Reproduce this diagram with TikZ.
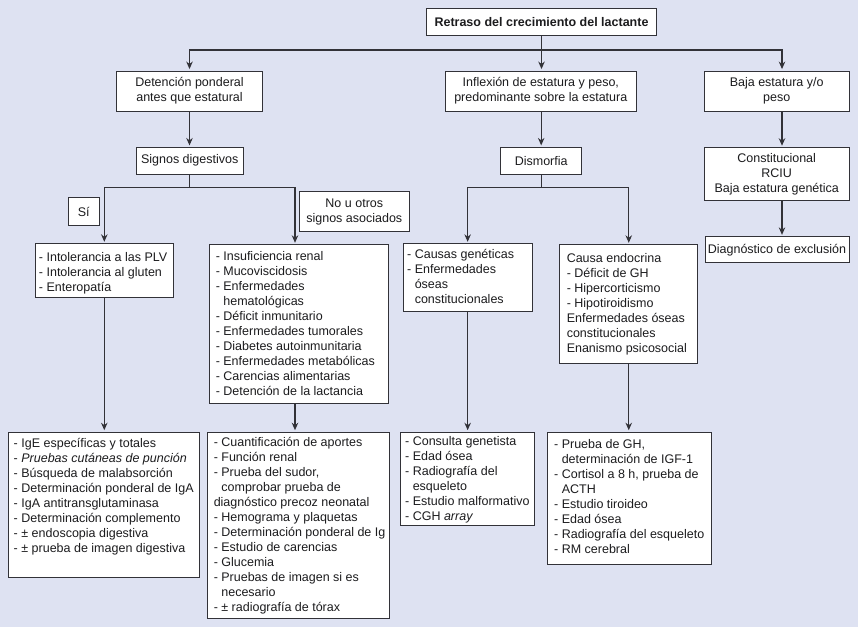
\documentclass[tikz,border=0pt]{standalone}
\usepackage{fontspec}
\setmainfont{Liberation Sans}
\usetikzlibrary{arrows.meta}
\definecolor{bgc}{RGB}{222,226,242}
\definecolor{lnc}{RGB}{50,50,56}
\definecolor{txc}{RGB}{28,28,30}
\newcommand\hi{\phantom{- }}
\newcommand\lbox[5]{\begin{minipage}[t][#2][t]{#1}\raggedright\leftskip=#3\relax\parindent=0pt\rule{0pt}{#4}#5\end{minipage}}
\tikzset{
  box/.style={draw=lnc, fill=white, line width=0.9pt, inner sep=0pt, text=txc,
    font=\fontsize{12.5pt}{15pt}\selectfont},
  cbox/.style={box, align=center},
  lbx/.style={box, anchor=north west},
  conn/.style={draw=lnc, line width=1.05pt},
  arr/.style={conn, -{Stealth[length=7.5pt,width=6.5pt]}, shorten >=1.5pt},
}
\begin{document}
\begin{tikzpicture}[x=1pt,y=-1pt]
\fill[bgc] (0,0) rectangle (858,627);
\useasboundingbox (0,0) rectangle (858,627);

\node[cbox, minimum width=229.6pt, minimum height=26.7pt,
  font={\fontsize{12.5pt}{15pt}\selectfont\bfseries}] (top) at (541.5,21.7)
  {Retraso del crecimiento del lactante};
\node[cbox, minimum width=145.6pt, minimum height=40pt] (A) at (189.5,91)
  {Detención ponderal\\antes que estatural};
\node[cbox, minimum width=191.7pt, minimum height=40pt] (B) at (540.8,91)
  {Inflexión de estatura y peso,\\predominante sobre la estatura};
\node[cbox, minimum width=144.7pt, minimum height=40pt] (C) at (776.7,91)
  {Baja estatura y/o\\peso};
\node[cbox, minimum width=107.3pt, minimum height=26.7pt] (Sig) at (189.7,160.7)
  {Signos digestivos};
\node[cbox, minimum width=81pt, minimum height=26.7pt] (Dis) at (541.2,160.7)
  {Dismorfia};
\node[cbox, minimum width=144.7pt, minimum height=53pt] (C2) at (776.7,174.2)
  {Constitucional\\RCIU\\Baja estatura genética};
\node[cbox, minimum width=144pt, minimum height=26pt] (C3) at (777,249.8)
  {Diagnóstico de exclusión};
\node[cbox, minimum width=31pt, minimum height=28pt] (si) at (83.8,211.7) {Sí};
\node[cbox, minimum width=110pt, minimum height=40pt] (no) at (354.3,211.7)
  {No u otros\\signos asociados};

\node[lbx] (D) at (35,243.3) {\lbox{137.7pt}{54pt}{3.5pt}{17.7pt}{%
- Intolerancia a las PLV\\- Intolerancia al gluten\\- Enteropatía}};
\node[lbx] (E) at (209.3,244.3) {\lbox{179pt}{158.4pt}{6pt}{15.7pt}{%
- Insuficiencia renal\\- Mucoviscidosis\\- Enfermedades\\\hi hematológicas\\- Déficit inmunitario\\- Enfermedades tumorales\\- Diabetes autoinmunitaria\\- Enfermedades metabólicas\\- Carencias alimentarias\\- Detención de la lactancia}};
\node[lbx] (F) at (402.7,243.3) {\lbox{129pt}{67.4pt}{4pt}{15pt}{%
- Causas genéticas\\- Enfermedades\\\hi óseas\\\hi constitucionales}};
\node[lbx] (G) at (559.3,244.3) {\lbox{138pt}{118.4pt}{7pt}{18pt}{%
Causa endocrina\\- Déficit de GH\\- Hipercorticismo\\- Hipotiroidismo\\Enfermedades óseas\\constitucionales\\Enanismo psicosocial}};
\node[lbx] (H) at (8.3,431.7) {\lbox{190.7pt}{145.6pt}{5pt}{15.3pt}{%
- IgE específicas y totales\\- \textit{Pruebas cutáneas de punción}\\- Búsqueda de malabsorción\\- Determinación ponderal de IgA\\- IgA antitransglutaminasa\\- Determinación complemento\\- ± endoscopia digestiva\\- ± prueba de imagen digestiva}};
\node[lbx] (I) at (207.3,431.7) {\lbox{182pt}{186.6pt}{6pt}{14.3pt}{%
- Cuantificación de aportes\\- Función renal\\- Prueba del sudor,\\\hi comprobar prueba de\\diagnóstico precoz neonatal\\- Hemograma y plaquetas\\- Determinación ponderal de Ig\\- Estudio de carencias\\- Glucemia\\- Pruebas de imagen si es\\\hi necesario\\- ± radiografía de tórax}};
\node[lbx] (J) at (400,431.7) {\lbox{134.3pt}{93.3pt}{4.7pt}{13.3pt}{%
- Consulta genetista\\- Edad ósea\\- Radiografía del\\\hi esqueleto\\- Estudio malformativo\\- CGH \textit{array}}};
\node[lbx] (K) at (546.7,431.7) {\lbox{164pt}{132.6pt}{7pt}{16.6pt}{%
- Prueba de GH,\\\hi determinación de IGF-1\\- Cortisol a 8 h, prueba de\\\hi ACTH\\- Estudio tiroideo\\- Edad ósea\\- Radiografía del esqueleto\\- RM cerebral}};

\coordinate (hy1) at (0,50);
\coordinate (hy2) at (0,187.3);
\coordinate (xC) at (782,0);
\coordinate (xE) at (295,0);

\draw[arr] (top.south) -- (top.south |- B.north);
\draw[arr] (top.south |- hy1) -| (A.north);
\draw[arr] (top.south |- hy1) -| (C.north -| xC);
\draw[arr] (A.south) -- (A.south |- Sig.north);
\draw[arr] (B.south -| Dis.north) -- (Dis.north);
\draw[arr] (C.south -| xC) -- (C2.north -| xC);
\draw[arr] (C2.south -| xC) -- (C3.north -| xC);

\draw[conn] (Sig.south) -- (Sig.south |- hy2);
\draw[arr] (Sig.south |- hy2) -| (D.north);
\draw[arr] (Sig.south |- hy2) -| (E.north -| xE);
\draw[conn] (Dis.south) -- (Dis.south |- hy2);
\draw[arr] (Dis.south |- hy2) -| (F.north);
\draw[arr] (Dis.south |- hy2) -| (G.north);

\draw[arr] (D.south) -- (D.south |- H.north);
\draw[arr] (E.south -| xE) -- (I.north -| xE);
\draw[arr] (F.south) -- (F.south |- J.north);
\draw[arr] (G.south) -- (G.south |- K.north);
\end{tikzpicture}
\end{document}
